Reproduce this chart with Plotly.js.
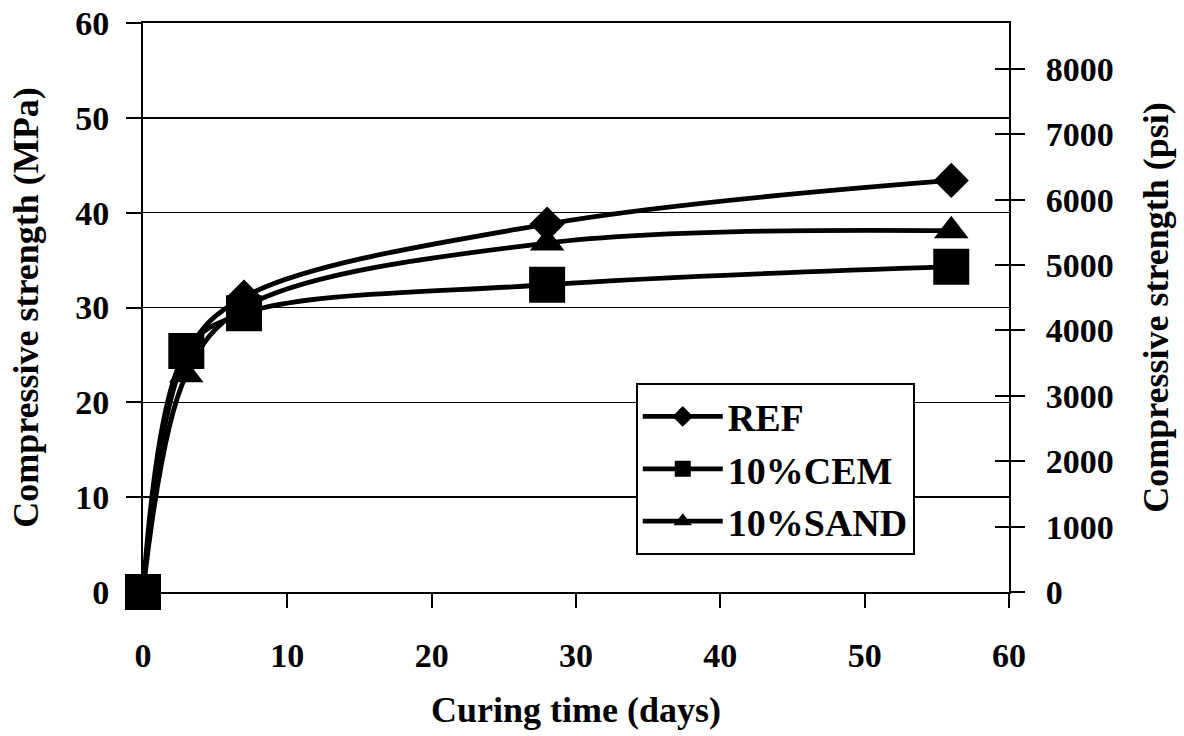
<!DOCTYPE html>
<html>
<head>
<meta charset="utf-8">
<script src="https://cdn.plot.ly/plotly-3.0.1.min.js"></script>
<style>html,body{margin:0;padding:0;background:#fff;}#chart{width:1184px;height:736px;}</style>
</head>
<body>
<div id="chart"></div>
<script>
// Curing time (days)
const days = [0, 3, 7, 28, 56];
// Compressive strength (MPa)
const refStrength = [0, 25.0, 31.1, 38.8, 43.4];
const cemStrength = [0, 25.4, 29.4, 32.4, 34.3];
const sandStrength = [0, 22.9, 30.0, 36.8, 38.1];
const seriesNames = ['REF', '10%CEM', '10%SAND'];
const mpaTicks = [0, 10, 20, 30, 40, 50, 60];
const psiTicks = [0, 1000, 2000, 3000, 4000, 5000, 6000, 7000, 8000];
const dayTicks = [0, 10, 20, 30, 40, 50, 60];
const PSI_PER_MPA = 145.038;

const FONT = 'Liberation Serif, Times New Roman, serif';
const lineStyle = {color: '#000', width: 4.8, shape: 'spline', smoothing: 1};

function tr(name, y, symbol, size) {
  return {
    x: days, y: y, name: name, type: 'scatter', mode: 'lines+markers',
    line: lineStyle, cliponaxis: false,
    marker: {symbol: symbol, size: size, color: '#000', line: {width: 0}}
  };
}

const data = [
  tr(seriesNames[0], refStrength, 'diamond', 27),
  tr(seriesNames[2], sandStrength, 'triangle-up', 30),
  tr(seriesNames[1], cemStrength, 'square', 36)
];
data[0].legendrank = 1; data[2].legendrank = 2; data[1].legendrank = 3;

// same REF series expressed in psi, transparent, only to carry the secondary psi axes
const refPsi = refStrength.map(v => v * PSI_PER_MPA);
['y2', 'y3'].forEach(ax => data.push({
  x: days, y: refPsi, yaxis: ax, type: 'scatter', mode: 'markers',
  marker: {opacity: 0, size: 1}, showlegend: false, hoverinfo: 'skip'
}));

const tickFont = {family: FONT, size: 34, color: '#000', weight: 700};
const titleFont = {family: FONT, size: 36, color: '#000', weight: 700};
const psiMax = 60 * PSI_PER_MPA;

const layout = {
  width: 1184, height: 736,
  margin: {l: 143, r: 175, t: 23, b: 144},
  paper_bgcolor: '#fff', plot_bgcolor: '#fff',
  showlegend: true,
  legend: {
    x: 0.569, y: 0.367, xanchor: 'left', yanchor: 'top',
    bgcolor: '#fff', bordercolor: '#000', borderwidth: 2,
    font: {family: FONT, size: 38, color: '#000', weight: 700},
    itemwidth: 80, tracegroupgap: 10, itemsizing: 'trace'
  },
  xaxis: {
    range: [0, 60], tickvals: dayTicks, ticktext: dayTicks.map(String),
    showgrid: false, zeroline: false, showline: true, mirror: true, linecolor: '#000', linewidth: 2,
    ticks: 'outside', ticklen: 14, tickwidth: 2, tickcolor: '#000',
    tickfont: tickFont, ticklabelstandoff: 18,
    title: {text: 'Curing time (days)', font: titleFont, standoff: 24}
  },
  yaxis: {
    range: [0, 60], tickvals: mpaTicks, ticktext: mpaTicks.map(String),
    showgrid: true, gridcolor: '#000', gridwidth: 1.6, zeroline: false,
    showline: true, linecolor: '#000', linewidth: 2,
    ticks: 'outside', ticklen: 15, tickwidth: 2, tickcolor: '#000',
    tickfont: tickFont, ticklabelstandoff: 10,
    title: {text: 'Compressive strength (MPa)', font: titleFont, standoff: 26}
  },
  yaxis2: {
    overlaying: 'y', side: 'right', anchor: 'x',
    range: [0, psiMax], tickvals: psiTicks, ticktext: psiTicks.map(String),
    showgrid: false, zeroline: false, showline: true, linecolor: '#000', linewidth: 2,
    ticks: 'outside', ticklen: 14, tickwidth: 2, tickcolor: '#000',
    tickfont: tickFont, ticklabelstandoff: 14,
    title: {text: 'Compressive strength (psi)', font: titleFont, standoff: 30}
  },
  yaxis3: {
    overlaying: 'y', side: 'right', anchor: 'x',
    range: [0, psiMax], tickvals: psiTicks, showticklabels: false,
    showgrid: false, zeroline: false, showline: false,
    ticks: 'inside', ticklen: 14, tickwidth: 2, tickcolor: '#000'
  }
};

Plotly.newPlot('chart', data, layout, {displayModeBar: false, staticPlot: true});
</script>
</body>
</html>
